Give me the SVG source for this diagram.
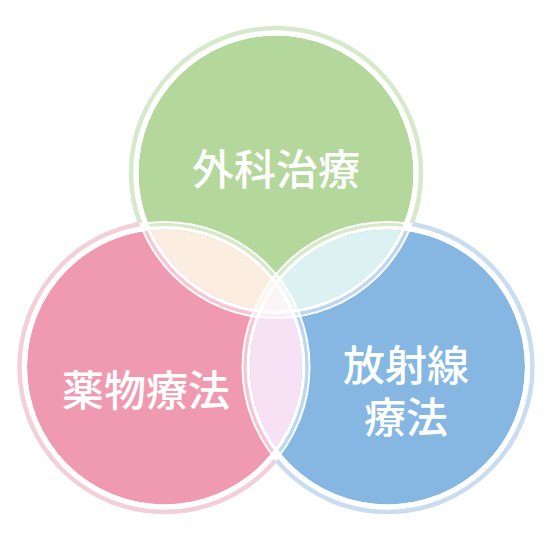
<svg xmlns="http://www.w3.org/2000/svg" width="552" height="548" viewBox="0 0 552 548">
<style>
.lbl{font-family:"Noto Sans CJK JP","Noto Sans CJK SC",sans-serif;font-size:42px;fill:#fff;text-anchor:middle;dominant-baseline:central;font-weight:500}
.wb{fill:none;stroke:#fff}
.w1{stroke-width:3.5}
.w2{stroke-width:3;stroke-opacity:0.45}
.w3{stroke-width:2}
.halo{fill:none;stroke-width:4.5}
</style>
<defs>
<clipPath id="cG"><circle cx="276" cy="173" r="137.5"/></clipPath>
<clipPath id="cP"><circle cx="164.5" cy="367" r="137.5"/></clipPath>
<clipPath id="cB"><circle cx="387.5" cy="367" r="137.5"/></clipPath>
<mask id="mG" maskUnits="userSpaceOnUse" x="0" y="0" width="552" height="548"><rect width="552" height="548" fill="#fff"/><circle cx="164.5" cy="367" r="146" fill="#000"/><circle cx="387.5" cy="367" r="146" fill="#000"/></mask>
<mask id="mP" maskUnits="userSpaceOnUse" x="0" y="0" width="552" height="548"><rect width="552" height="548" fill="#fff"/><circle cx="276" cy="173" r="146" fill="#000"/><circle cx="387.5" cy="367" r="146" fill="#000"/></mask>
<mask id="mB" maskUnits="userSpaceOnUse" x="0" y="0" width="552" height="548"><rect width="552" height="548" fill="#fff"/><circle cx="276" cy="173" r="146" fill="#000"/><circle cx="164.5" cy="367" r="146" fill="#000"/></mask>
</defs>
<rect width="552" height="548" fill="#fff"/>
<g id="node-surgery">
<circle cx="276" cy="173" r="137.5" fill="#b4d79c"/>
<text class="lbl" x="276" y="166">外科治療</text>
</g>
<g id="node-drug">
<circle cx="164.5" cy="367" r="137.5" fill="#ef9ab0"/>
<text class="lbl" x="146" y="387">薬物療法</text>
</g>
<g id="node-radiation">
<circle cx="387.5" cy="367" r="137.5" fill="#85b7e2"/>
<text class="lbl" x="406" y="362"><tspan x="406" y="362">放射線</tspan><tspan x="406" dy="52">療法</tspan></text>
</g>
<g id="overlaps">
<circle cx="276" cy="173" r="137.5" fill="#fbeee0" clip-path="url(#cP)"/>
<circle cx="276" cy="173" r="137.5" fill="#dcf2f2" clip-path="url(#cB)"/>
<circle cx="164.5" cy="367" r="137.5" fill="#f7e1f4" clip-path="url(#cB)"/>
<g clip-path="url(#cB)"><circle cx="276" cy="173" r="137.5" fill="#fbf4f7" clip-path="url(#cP)"/></g>
</g>
<g id="connectors">
<g id="ring-surgery">
<circle class="wb w1" cx="276" cy="173" r="139.25"/>
<circle class="wb w2" cx="276" cy="173" r="142.5"/>
<circle class="wb w3" cx="276" cy="173" r="145"/>
<circle class="halo" cx="276" cy="173" r="145" stroke="#d6eacb" mask="url(#mG)"/>
</g>
<g id="ring-drug">
<circle class="wb w1" cx="164.5" cy="367" r="139.25"/>
<circle class="wb w2" cx="164.5" cy="367" r="142.5"/>
<circle class="wb w3" cx="164.5" cy="367" r="145"/>
<circle class="halo" cx="164.5" cy="367" r="145" stroke="#f3cfd8" mask="url(#mP)"/>
</g>
<g id="ring-radiation">
<circle class="wb w1" cx="387.5" cy="367" r="139.25"/>
<circle class="wb w2" cx="387.5" cy="367" r="142.5"/>
<circle class="wb w3" cx="387.5" cy="367" r="145"/>
<circle class="halo" cx="387.5" cy="367" r="145" stroke="#c9dcf0" mask="url(#mB)"/>
</g>
</g>
</svg>
